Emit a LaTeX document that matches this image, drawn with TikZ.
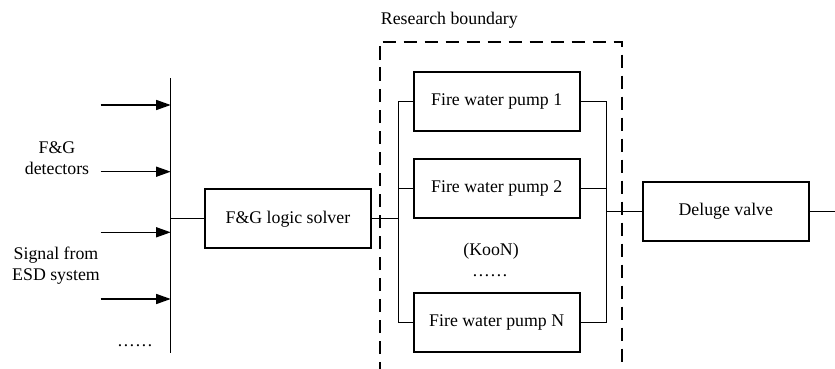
\documentclass[tikz,border=0pt]{standalone}
\usepackage{fontspec}
\setmainfont{Liberation Serif}
\usetikzlibrary{arrows.meta}
\begin{document}
\begin{tikzpicture}[x=1pt,y=-1pt,
  font=\fontsize{17.8}{21}\selectfont,
  block/.style={draw,line width=2.2pt,minimum width=166pt,minimum height=59pt,inner sep=0pt},
  wire/.style={line width=1.3pt},
  inarrow/.style={line width=1.3pt,-{Triangle[length=14.5pt,width=10pt]}},
  boundary/.style={line width=2pt,dash pattern=on 13.5pt off 7.5pt},
  lbl/.style={inner sep=0pt}]
\useasboundingbox (0,0) rectangle (835,369);

% blocks
\node[block] (solver) at (287.9,218.8) {F\&G logic solver};
\node[block] (pump1)  at (496.7,101.7) {Fire water pump 1};
\node[block] (pump2)  at (496.7,188.8) {Fire water pump 2};
\node[block] (pumpN)  at (496.7,322.5) {Fire water pump N};
\node[block] (valve)  at (725.8,211.7) {Deluge valve};

% input bus and incoming signals
\coordinate (bustop) at (170.7,78);
\coordinate (busbot) at (170.7,353);
\draw[wire] (bustop) -- (busbot);
\foreach \y [count=\i] in {105,171.7,232.3,299}{
  \coordinate (in\i) at (100.7,\y);
  \draw[inarrow] (in\i) -- (in\i -| bustop);
}
\draw[wire] (solver.west -| bustop) -- (solver.west);

% parallel pump group
\coordinate (lbus) at (398.3,218.8);
\coordinate (rbus) at (606.7,211.7);
\draw[wire] (solver.east) -- (lbus);
\draw[wire] (pump1.west -| lbus) -- (pumpN.west -| lbus);
\draw[wire] (pump1.east -| rbus) -- (pumpN.east -| rbus);
\foreach \p in {pump1,pump2,pumpN}{
  \draw[wire] (\p.west -| lbus) -- (\p.west);
  \draw[wire] (\p.east) -- (\p.east -| rbus);
}
\draw[wire] (rbus) -- (valve.west);
\coordinate (outend) at (835,211.7);
\draw[wire] (valve.east) -- (outend);

% research boundary
\draw[boundary] (380,375) -- (380,41.7) -- (621.7,41.7) -- (621.7,375);

% labels
\node[lbl,anchor=base west] (rb) at (380.7,24.5) {Research boundary};
\node[lbl,align=center] (det) at (57,158.5) {F\&G\\detectors};
\node[lbl,align=center] (esd) at (56,265.5) {Signal from\\ESD system};
\node[lbl,anchor=base] (more) at (135,346) {……};
\node[lbl,anchor=base] (koon) at (491,255) {(KooN)};
\node[lbl,anchor=base] (dots) at (490,276) {……};
\end{tikzpicture}
\end{document}
